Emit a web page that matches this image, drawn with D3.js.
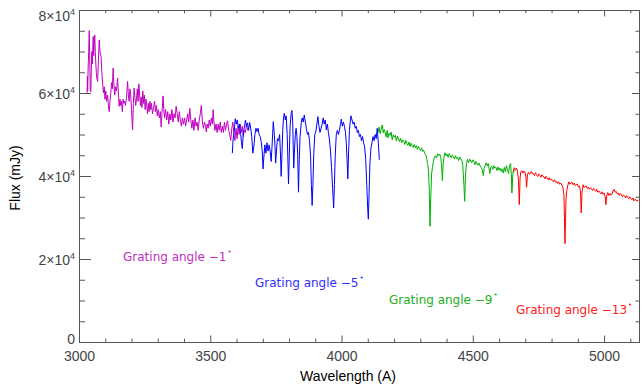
<!DOCTYPE html>
<html>
<head>
<meta charset="utf-8">
<script src="https://cdn.jsdelivr.net/npm/d3@7"></script>
<style>
    html, body { margin: 0; padding: 0; background: #fff; }
    svg { display: block; }
</style>
</head>
<body>
<div id="chart"></div>
<script>
// spectrum pieces, [wavelength (A), flux (10^3 mJy)]
const angle1 = [
    [3029, 60.1], [3031, 60.1], [3032, 64.0], [3033, 60.5], [3035, 66.5], [3037, 70.0], [3039, 75.0],
    [3041, 68.0], [3043, 60.5], [3045, 60.3], [3047, 65.5], [3049, 70.0], [3051, 67.0], [3054, 73.6],
    [3056, 69.0], [3058, 72.0], [3060, 74.0], [3062, 70.0], [3064, 67.2], [3066, 65.0], [3068, 63.5],
    [3071, 62.8], [3074, 68.0], [3077, 72.8], [3080, 70.0], [3084, 68.8], [3087, 65.0], [3090, 62.4],
    [3093, 60.0], [3096, 61.5], [3099, 58.5], [3102, 60.5], [3105, 58.0], [3109, 59.5], [3112, 57.0],
    [3115, 55.5], [3118, 58.0], [3121, 60.0], [3124, 62.5], [3127, 61.0], [3130, 66.0], [3133, 62.0],
    [3136, 59.5], [3139, 61.5], [3143, 60.5], [3147, 63.6], [3150, 60.0], [3153, 56.8], [3156, 58.5],
    [3159, 57.0], [3162, 58.0], [3165, 55.5], [3168, 58.5], [3171, 57.5], [3174, 58.0], [3177, 57.0],
    [3181, 59.0], [3185, 62.8], [3188, 59.5], [3191, 58.0], [3194, 61.0], [3197, 59.5], [3200, 56.0],
    [3204, 51.1], [3207, 57.5], [3210, 61.2], [3213, 59.0], [3216, 57.0], [3219, 58.5], [3222, 61.0],
    [3225, 58.0], [3228, 62.2], [3231, 59.5], [3234, 57.0], [3237, 59.0], [3240, 56.5], [3243, 60.5],
    [3246, 57.5], [3249, 59.5], [3252, 56.0], [3255, 58.5], [3258, 57.0], [3261, 55.0], [3264, 57.5],
    [3267, 55.5], [3270, 58.0], [3273, 56.0], [3276, 57.5], [3280, 55.0], [3284, 56.5], [3288, 58.0],
    [3291, 55.5], [3295, 57.0], [3298, 54.5], [3302, 56.0], [3306, 54.0], [3310, 55.5], [3313, 51.8],
    [3316, 55.0], [3320, 59.3], [3323, 56.0], [3326, 54.0], [3330, 56.0], [3334, 53.5], [3338, 55.5],
    [3342, 52.5], [3346, 55.0], [3350, 53.5], [3354, 56.0], [3358, 53.0], [3362, 55.0], [3366, 54.0],
    [3370, 56.8], [3374, 55.0], [3378, 53.0], [3382, 55.5], [3386, 53.5], [3390, 52.0], [3394, 54.0],
    [3398, 52.5], [3402, 54.0], [3406, 52.0], [3410, 53.5], [3414, 55.0], [3418, 53.0], [3422, 56.3],
    [3426, 53.5], [3430, 51.5], [3434, 53.5], [3438, 51.0], [3442, 54.0], [3446, 52.0], [3450, 53.0],
    [3454, 51.0], [3458, 53.5], [3462, 55.0], [3466, 57.0], [3470, 53.0], [3474, 51.5], [3478, 53.0],
    [3482, 52.0], [3485, 50.6], [3488, 52.5], [3492, 51.5], [3496, 53.5], [3500, 52.0], [3504, 54.0],
    [3508, 52.5], [3511, 56.0], [3514, 53.0], [3518, 51.0], [3522, 52.5], [3526, 50.5], [3530, 52.5],
    [3534, 51.0], [3538, 53.0], [3542, 50.5], [3546, 52.0], [3550, 50.5], [3554, 53.0], [3558, 51.0],
    [3562, 52.5], [3566, 53.3], [3570, 51.0], [3574, 50.0], [3578, 48.6], [3582, 51.5], [3586, 53.0],
    [3590, 50.0], [3594, 48.5], [3598, 51.5], [3602, 49.0], [3606, 52.0], [3610, 50.0], [3614, 52.5],
    [3618, 50.5], [3622, 52.0], [3626, 49.5], [3630, 51.0], [3634, 50.5], [3638, 52.5], [3642, 51.0]
];

const angle5 = [
    [3584, 45.5], [3587, 49.0], [3591, 50.5], [3595, 53.8], [3599, 52.5], [3603, 53.5], [3607, 51.5],
    [3611, 52.5], [3616, 50.0], [3619, 48.0], [3622, 46.6], [3626, 50.5], [3630, 51.8], [3634, 53.5],
    [3638, 52.0], [3642, 52.8], [3646, 51.0], [3650, 52.9], [3654, 51.5], [3658, 49.5], [3662, 45.5],
    [3666, 47.0], [3670, 50.0], [3674, 51.5], [3678, 50.7], [3682, 51.5], [3686, 50.0], [3690, 49.5],
    [3694, 48.3], [3698, 46.0], [3701, 41.7], [3704, 44.5], [3708, 47.5], [3712, 45.5], [3716, 48.0],
    [3720, 46.0], [3724, 47.5], [3728, 46.0], [3732, 43.5], [3736, 48.0], [3740, 53.1], [3744, 50.0],
    [3747, 46.5], [3749, 43.1], [3752, 46.0], [3756, 49.0], [3760, 48.5], [3764, 50.0], [3767, 46.0],
    [3770, 39.9], [3773, 45.0], [3776, 51.0], [3779, 54.0], [3782, 55.1], [3786, 53.5], [3789, 54.5],
    [3793, 50.0], [3796, 43.0], [3798, 38.1], [3801, 45.0], [3804, 52.0], [3808, 55.0], [3811, 55.8],
    [3814, 53.0], [3816, 47.0], [3818, 41.9], [3821, 46.5], [3824, 50.0], [3827, 51.5], [3830, 49.5],
    [3833, 45.0], [3836, 36.1], [3839, 44.0], [3842, 49.5], [3846, 52.5], [3850, 54.0], [3854, 53.0],
    [3858, 54.7], [3862, 53.0], [3866, 51.5], [3870, 50.0], [3874, 50.5], [3878, 48.5], [3882, 45.0],
    [3885, 38.0], [3888, 32.9], [3891, 38.0], [3894, 45.0], [3898, 50.0], [3902, 50.6], [3906, 52.5],
    [3910, 54.3], [3914, 52.0], [3918, 50.5], [3922, 51.5], [3926, 52.5], [3930, 54.0], [3934, 52.5],
    [3938, 53.5], [3942, 51.1], [3946, 52.5], [3950, 50.5], [3954, 48.7], [3958, 46.0], [3962, 42.0],
    [3966, 37.0], [3970, 32.3], [3973, 38.0], [3976, 45.0], [3980, 50.0], [3984, 51.0], [3988, 50.0],
    [3992, 51.0], [3996, 52.5], [3999, 53.7], [4003, 52.0], [4007, 53.0], [4011, 52.0], [4015, 50.5],
    [4018, 48.0], [4021, 44.0], [4024, 39.3], [4027, 46.0], [4030, 51.0], [4033, 53.0], [4036, 54.5],
    [4040, 53.5], [4044, 52.5], [4048, 53.0], [4052, 51.5], [4056, 52.0], [4060, 50.5], [4064, 51.0],
    [4068, 49.5], [4072, 50.0], [4076, 48.5], [4080, 49.5], [4084, 48.0], [4088, 47.0], [4092, 44.0],
    [4096, 38.0], [4099, 33.0], [4102, 29.6], [4105, 36.0], [4108, 43.0], [4112, 46.7], [4116, 48.0],
    [4120, 49.5], [4124, 48.5], [4128, 50.0], [4132, 49.0], [4136, 51.5], [4140, 48.0], [4144, 43.9]
];

const angle9 = [
    [4140, 50.5], [4143, 51.8], [4147, 50.2], [4151, 51.3], [4155, 52.3], [4159, 50.4], [4162, 51.2],
    [4166, 50.6], [4170, 49.4], [4174, 51.0], [4177, 49.2], [4181, 50.3], [4185, 49.8], [4189, 50.6],
    [4193, 48.7], [4197, 49.9], [4201, 49.3], [4205, 49.8], [4209, 48.4], [4213, 49.6], [4217, 48.9],
    [4221, 48.3], [4225, 49.1], [4229, 48.0], [4233, 48.7], [4237, 48.4], [4241, 47.6], [4245, 48.6],
    [4249, 47.8], [4253, 47.4], [4257, 48.2], [4261, 47.1], [4265, 47.9], [4269, 47.3], [4273, 46.9],
    [4277, 47.6], [4281, 46.8], [4285, 47.3], [4289, 46.4], [4293, 47.1], [4297, 46.6], [4301, 46.1],
    [4305, 46.8], [4309, 45.9], [4313, 46.2], [4317, 45.4], [4321, 45.1], [4325, 44.0], [4328, 43.0],
    [4331, 41.5], [4334, 37.0], [4337, 27.9], [4340, 35.0], [4343, 40.5], [4346, 42.0], [4350, 43.5],
    [4354, 44.6], [4358, 44.9], [4362, 44.3], [4366, 45.4], [4370, 44.9], [4374, 45.3], [4378, 44.5],
    [4381, 42.5], [4384, 38.9], [4387, 43.0], [4390, 44.5], [4394, 45.6], [4398, 44.9], [4402, 45.3],
    [4406, 44.5], [4410, 45.4], [4414, 44.8], [4418, 44.4], [4422, 45.1], [4426, 44.6], [4430, 44.1],
    [4434, 44.9], [4438, 44.2], [4442, 44.5], [4446, 43.7], [4450, 44.6], [4454, 44.0], [4458, 43.9],
    [4462, 42.5], [4466, 38.0], [4469, 33.9], [4472, 40.0], [4476, 43.0], [4480, 44.0], [4484, 43.2],
    [4488, 44.1], [4492, 43.6], [4496, 43.2], [4500, 43.9], [4504, 43.4], [4508, 42.7], [4512, 43.5],
    [4516, 42.9], [4520, 42.6], [4524, 43.1], [4528, 42.4], [4532, 42.0], [4536, 41.5], [4540, 40.1],
    [4543, 41.8], [4547, 42.5], [4551, 43.2], [4555, 42.4], [4559, 43.0], [4562, 41.8], [4565, 40.6],
    [4568, 42.0], [4572, 42.4], [4576, 41.6], [4580, 42.5], [4584, 41.9], [4588, 42.1], [4592, 41.3],
    [4596, 42.2], [4600, 41.4], [4604, 41.9], [4608, 41.1], [4612, 41.7], [4616, 40.7], [4620, 42.1],
    [4624, 41.0], [4628, 42.5], [4632, 41.5], [4636, 40.6], [4640, 42.5], [4644, 43.0], [4647, 40.0],
    [4649, 35.9], [4652, 40.0], [4655, 41.5], [4658, 41.0]
];

const angle13 = [
    [4654, 41.1], [4658, 42.0], [4662, 41.4], [4666, 41.9], [4670, 41.2], [4674, 39.0], [4677, 33.1],
    [4680, 39.5], [4683, 41.0], [4687, 41.3], [4691, 40.7], [4695, 41.2], [4699, 40.8], [4702, 40.0],
    [4705, 37.3], [4708, 40.3], [4712, 40.9], [4716, 40.4], [4719, 40.7], [4723, 41.1], [4727, 40.5],
    [4731, 40.6], [4735, 40.1], [4739, 40.8], [4743, 40.3], [4747, 39.9], [4751, 40.5], [4755, 40.2],
    [4759, 39.7], [4763, 40.3], [4767, 39.9], [4771, 39.8], [4775, 39.3], [4779, 39.9], [4783, 39.5],
    [4787, 39.1], [4791, 39.6], [4795, 39.0], [4799, 39.3], [4803, 38.9], [4807, 38.6], [4811, 39.1],
    [4815, 38.5], [4819, 38.7], [4823, 38.2], [4827, 38.6], [4831, 38.0], [4835, 38.3], [4839, 37.8],
    [4843, 37.3], [4847, 35.5], [4849, 30.0], [4851, 23.7], [4853, 29.0], [4855, 34.5], [4858, 36.5],
    [4862, 37.8], [4866, 38.6], [4870, 38.0], [4874, 38.4], [4878, 38.5], [4882, 37.9], [4886, 38.3],
    [4890, 37.7], [4894, 37.9], [4898, 38.1], [4902, 37.4], [4906, 37.6], [4910, 36.5], [4913, 31.1],
    [4916, 36.0], [4920, 37.9], [4924, 37.2], [4928, 37.5], [4932, 37.6], [4936, 37.0], [4940, 37.3],
    [4944, 36.8], [4948, 37.2], [4952, 36.9], [4956, 36.5], [4960, 37.0], [4964, 36.6], [4968, 36.3],
    [4972, 36.8], [4976, 36.1], [4980, 36.4], [4984, 36.0], [4988, 35.7], [4992, 36.2], [4996, 35.6],
    [5000, 35.9], [5004, 35.0], [5007, 33.1], [5010, 35.2], [5014, 36.0], [5018, 35.3], [5022, 35.8],
    [5026, 35.4], [5030, 35.6], [5034, 36.4], [5038, 36.8], [5042, 36.1], [5046, 36.3], [5050, 35.7],
    [5054, 35.9], [5058, 35.3], [5062, 35.8], [5066, 35.5], [5070, 35.0], [5074, 35.4], [5078, 35.2],
    [5082, 34.7], [5086, 35.3], [5090, 34.8], [5094, 34.5], [5098, 35.0], [5102, 34.6], [5106, 34.3],
    [5110, 34.7], [5114, 34.0], [5118, 34.4], [5122, 34.2], [5126, 33.9], [5130, 34.3]
];

const segmentLabels = ['Grating angle \u22121', 'Grating angle \u22125', 'Grating angle \u22129', 'Grating angle \u221213'];
const xTicks = [3000, 3500, 4000, 4500, 5000];
const yTicks = [0, 20000, 40000, 60000, 80000];

const width = 642;
const height = 392;
const margins = {top: 10, right: 3, bottom: 50, left: 79};
const graphWidth = width - margins.left - margins.right;
const graphHeight = height - margins.top - margins.bottom;

const segments = [
    {data: angle1, label: segmentLabels[0], color: '#c000c0', text: '#c030c0', tx: 123, ty: 261},
    {data: angle5, label: segmentLabels[1], color: '#0000ff', text: '#3030ff', tx: 255, ty: 287},
    {data: angle9, label: segmentLabels[2], color: '#00b000', text: '#20b020', tx: 389, ty: 304},
    {data: angle13, label: segmentLabels[3], color: '#ff0000', text: '#ff2020', tx: 516, ty: 314}
];

const svg = d3.select('#chart')
    .append('svg')
    .attr('width', width)
    .attr('height', height);

const xScale = d3.scaleLinear().domain([3000, 5133]).range([0, graphWidth]);
const yScale = d3.scaleLinear().domain([0, 80000]).range([graphHeight, 0]);

const graph = svg.append('g')
    .attr('transform', `translate(${margins.left}, ${margins.top})`);

graph.append('clipPath')
    .attr('id', 'plot-clip')
    .append('rect')
    .attr('width', graphWidth)
    .attr('height', graphHeight);

const line = d3.line()
    .x(d => xScale(d[0]))
    .y(d => yScale(d[1] * 1000));

segments.forEach(s => {
    graph.append('path')
        .datum(s.data)
        .attr('clip-path', 'url(#plot-clip)')
        .attr('fill', 'none')
        .attr('stroke', s.color)
        .attr('stroke-width', 1)
        .attr('stroke-linejoin', 'round')
        .attr('d', line);
});

// axes: box with ticks on all four sides
const axisColor = '#555';
const minorX = d3.range(3000, 5134, 100).filter(v => !xTicks.includes(v));
const minorY = d3.range(0, 80001, 5000).filter(v => !yTicks.includes(v));

function styleAxis(g) {
    g.select('.domain').attr('stroke', axisColor);
    g.selectAll('.tick line').attr('stroke', axisColor);
}

// bottom
graph.append('g')
    .attr('transform', `translate(0, ${graphHeight})`)
    .call(d3.axisBottom(xScale).tickValues(xTicks).tickSize(-6.5).tickSizeOuter(0).tickPadding(9).tickFormat(d3.format('d')))
    .call(styleAxis)
    .selectAll('text')
    .attr('fill', '#444')
    .style('font-family', '"Liberation Sans", Arial, sans-serif')
    .style('font-size', '14px');
graph.append('g')
    .attr('transform', `translate(0, ${graphHeight})`)
    .call(d3.axisBottom(xScale).tickValues(minorX).tickSize(-3.3).tickSizeOuter(0).tickFormat(''))
    .call(styleAxis);

// top
graph.append('g')
    .call(d3.axisTop(xScale).tickValues(xTicks).tickSize(-6.5).tickSizeOuter(0).tickFormat(''))
    .call(styleAxis);
graph.append('g')
    .call(d3.axisTop(xScale).tickValues(minorX).tickSize(-3.3).tickSizeOuter(0).tickFormat(''))
    .call(styleAxis);

// left
const yAxis = graph.append('g')
    .call(d3.axisLeft(yScale).tickValues(yTicks).tickSize(-12).tickSizeOuter(0).tickFormat(''))
    .call(styleAxis);
graph.append('g')
    .call(d3.axisLeft(yScale).tickValues(minorY).tickSize(-6).tickSizeOuter(0).tickFormat(''))
    .call(styleAxis);

// end labels are nudged inwards, as in the original
yAxis.selectAll('.tick')
    .append('text')
    .attr('x', -4)
    .attr('y', d => d === 0 ? 1 : d === 80000 ? 10 : 5)
    .attr('text-anchor', 'end')
    .attr('fill', '#444')
    .style('font-family', '"Liberation Sans", Arial, sans-serif')
    .style('font-size', '14px')
    .each(function(d) {
        const t = d3.select(this);
        if (d === 0) {
            t.text('0');
            return;
        }
        t.append('tspan').text(`${d / 10000}\u00d710`);
        t.append('tspan')
            .attr('dy', -6)
            .style('font-size', '9px')
            .text('4');
    });

// right
graph.append('g')
    .attr('transform', `translate(${graphWidth}, 0)`)
    .call(d3.axisRight(yScale).tickValues(yTicks).tickSize(-7).tickSizeOuter(0).tickFormat(''))
    .call(styleAxis);
graph.append('g')
    .attr('transform', `translate(${graphWidth}, 0)`)
    .call(d3.axisRight(yScale).tickValues(minorY).tickSize(-3.5).tickSizeOuter(0).tickFormat(''))
    .call(styleAxis);

// axis titles
svg.append('text')
    .attr('x', 348)
    .attr('y', 381)
    .attr('text-anchor', 'middle')
    .attr('fill', '#000')
    .style('font-family', '"Liberation Sans", Arial, sans-serif')
    .style('font-size', '14px')
    .text('Wavelength (A)');

svg.append('text')
    .attr('transform', 'translate(20, 178) rotate(-90)')
    .attr('text-anchor', 'middle')
    .attr('fill', '#000')
    .style('font-family', '"Liberation Sans", Arial, sans-serif')
    .style('font-size', '14px')
    .text('Flux (mJy)');

// grating angle annotations
segments.forEach(s => {
    const t = svg.append('text')
        .attr('x', s.tx)
        .attr('y', s.ty)
        .attr('fill', s.text)
        .style('font-family', '"DejaVu Sans", sans-serif')
        .style('font-size', '12px');
    t.append('tspan').text(s.label);
    t.append('tspan')
        .attr('dx', 1)
        .attr('dy', -7)
        .style('font-size', '7px')
        .text('\u2022');
});
</script>
</body>
</html>
